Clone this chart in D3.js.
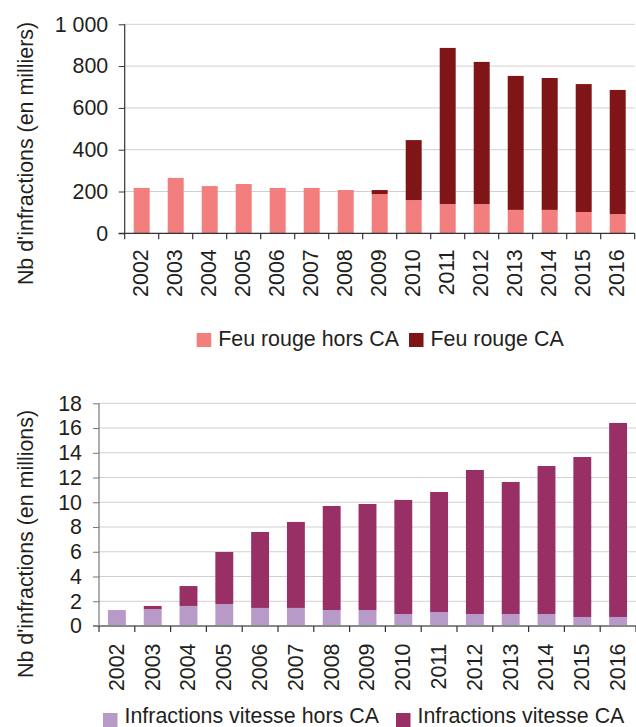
<!DOCTYPE html>
<html><head><meta charset="utf-8">
<script src="https://cdn.jsdelivr.net/npm/d3@7/dist/d3.min.js"></script>
<style>
body{margin:0;background:#fff;}
svg{display:block;font-family:"Liberation Sans",Arial,Helvetica,sans-serif;}
</style></head>
<body>
<svg id="c" width="636" height="727"></svg>
<script>
const years = ["2002","2003","2004","2005","2006","2007","2008","2009","2010","2011","2012","2013","2014","2015","2016"];
const feuHors = [217,265,226,236,217,217,207,188,159,140,140,112,112,102,92];
const feuCA   = [0,0,0,0,0,0,0,19,287,747,680,641,631,612,594];
const vitHors = [1.29,1.37,1.62,1.78,1.46,1.46,1.29,1.29,0.97,1.13,0.97,0.97,0.97,0.73,0.73];
const vitCA   = [0,0.25,1.61,4.20,6.14,6.95,8.41,8.57,9.22,9.70,11.64,10.67,11.96,12.93,15.68];
const topTicks = [0,200,400,600,800,1000];
const botTicks = [0,2,4,6,8,10,12,14,16,18];
const legendTop = ["Feu rouge hors CA","Feu rouge CA"];
const legendBot = ["Infractions vitesse hors CA","Infractions vitesse CA"];
const titleTop = "Nb d'infractions (en milliers)";
const titleBot = "Nb d'infractions (en millions)";

const svg = d3.select("#c");
const txt = "#231f20";
const fs = "21.4px";

function chart(cfg){
  const g = svg.append("g");
  const x = d3.scaleBand().domain(years).range([cfg.x0, cfg.x1]).padding(0);
  const y = d3.scaleLinear().domain([0, cfg.max]).range([cfg.y0, cfg.yTop]);
  // gridlines
  g.selectAll("line.grid").data(cfg.ticks.filter(d=>d>0)).join("line")
    .attr("x1", cfg.x0).attr("x2", cfg.x1)
    .attr("y1", d=>y(d)).attr("y2", d=>y(d))
    .attr("stroke", "#d0d0d0").attr("stroke-width", 1);
  // stacked bars
  const stack = d3.stack().keys(["a","b"])(years.map((yr,i)=>({yr, a:cfg.s1[i], b:cfg.s2[i]})));
  const bw = x.bandwidth()*cfg.barFrac;
  stack.forEach((layer, li)=>{
    g.selectAll(null).data(layer).join("rect")
      .attr("x", d=>x(d.data.yr) + (x.bandwidth()-bw)/2)
      .attr("width", bw)
      .attr("y", d=>y(d[1]))
      .attr("height", d=>Math.max(0, y(d[0]) - y(d[1])))
      .attr("fill", cfg.colors[li]);
  });
  // y axis
  const ya = d3.axisLeft(y).tickValues(cfg.ticks).tickSize(6).tickPadding(cfg.tickPad).tickFormat(cfg.fmt);
  const yg = g.append("g").attr("transform", `translate(${cfg.x0},0)`).call(ya);
  yg.select(".domain").attr("stroke", cfg.axisColor).attr("stroke-width", 1.2).attr("d", `M0,${cfg.y0}V${cfg.yTop}`);
  yg.selectAll(".tick line").attr("stroke", cfg.axisColor);
  yg.selectAll("text").attr("font-size", fs).attr("fill", txt).attr("font-family", "Liberation Sans, Arial, sans-serif");
  // x axis
  const xa = d3.axisBottom(x).tickSize(0).tickFormat("");
  const xg = g.append("g").attr("transform", `translate(0,${cfg.y0})`).call(xa);
  xg.select(".domain").attr("stroke", cfg.xAxisColor).attr("stroke-width", cfg.xAxisW).attr("d", `M${cfg.x0-6},0H${cfg.x1}`);
  const bounds = years.map(d=>x(d)).concat([cfg.x1]);
  xg.selectAll("line.b").data(bounds).join("line").attr("class","b")
    .attr("x1", d=>d).attr("x2", d=>d).attr("y1", 0).attr("y2", 6)
    .attr("stroke", "#333").attr("stroke-width", 1.2);
  // year labels
  g.selectAll("text.yr").data(years).join("text").attr("class","yr")
    .attr("transform", d=>`translate(${x(d)+x.bandwidth()/2 + cfg.lblDx},${cfg.y0 + cfg.lblGap}) rotate(-90)`)
    .attr("text-anchor","end").attr("font-size",fs).attr("fill", txt)
    .text(d=>d);
  // title
  g.append("text").attr("transform", `translate(33.3,${cfg.titleY}) rotate(-90)`)
    .attr("text-anchor","middle").attr("font-size",fs).attr("fill", txt).text(cfg.title);
  // legend
  const lg = g.append("g");
  cfg.legend.forEach((name, i)=>{
    lg.append("rect").attr("x", cfg.legX[i]).attr("y", cfg.sqY).attr("width",14.5).attr("height",14).attr("fill", cfg.colors[i]);
    lg.append("text").attr("x", cfg.legX[i]+21.5).attr("y", cfg.legY).attr("font-size",fs).attr("fill", txt).text(name);
  });
}

chart({x0:124.7, x1:634.7, y0:233.3, yTop:24.3, max:1000, ticks:topTicks, tickPad:10.5,
  fmt: d=>d3.format(",")(d).replace(/,/g," "),
  s1:feuHors, s2:feuCA, colors:["#f37e7e","#801518"], barFrac:0.47,
  axisColor:"#333", xAxisColor:"#333", xAxisW:1.2, lblDx:5.8, lblGap:16,
  title:titleTop, titleY:153.5, legend:legendTop, legX:[196.7,409], legY:345.5, sqY:333});

chart({x0:99, x1:636, y0:626, yTop:403.3, max:18, ticks:botTicks, tickPad:11,
  fmt: d=>d,
  s1:vitHors, s2:vitCA, colors:["#b89ac8","#982f65"], barFrac:0.5,
  axisColor:"#777", xAxisColor:"#888", xAxisW:2, lblDx:6.9, lblGap:17.5,
  title:titleBot, titleY:544, legend:legendBot, legX:[103,396], legY:723, sqY:713});
</script>
</body></html>
